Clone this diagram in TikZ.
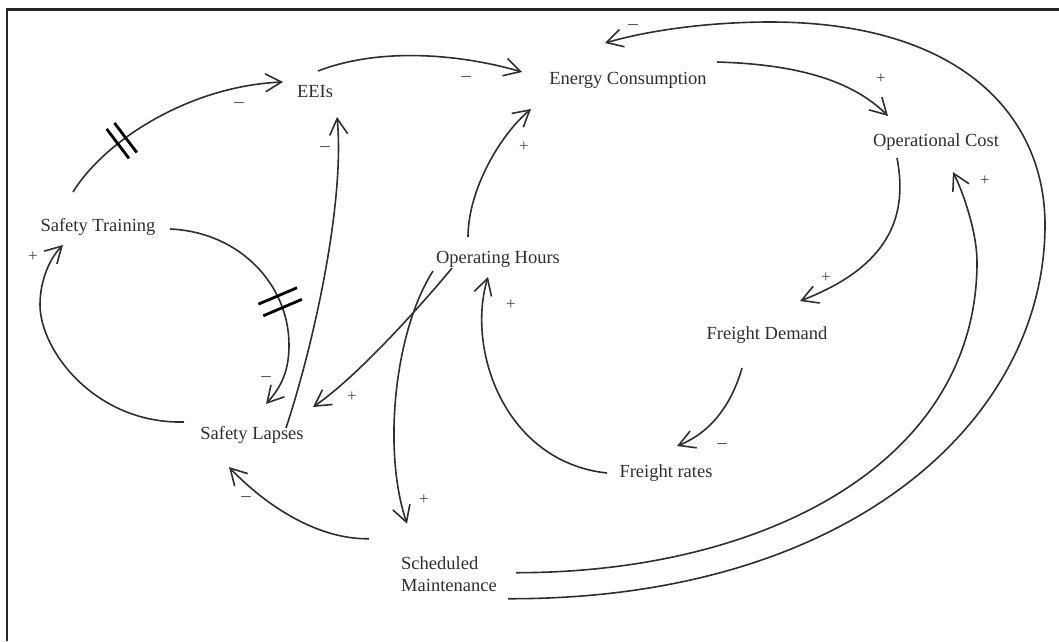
\documentclass[tikz,border=0pt]{standalone}
\usepackage{fontspec}
\setmainfont{Liberation Serif}
\usetikzlibrary{arrows.meta,calc,decorations.markings}
\definecolor{ink}{HTML}{2E2E2E}
\definecolor{signink}{HTML}{474747}
\begin{document}
\begin{tikzpicture}[x=1pt,y=-1pt,
  var/.style={inner sep=0pt, anchor=base, text=ink, font=\fontsize{18.5}{21.4}\selectfont},
  sgn/.style={inner sep=0pt, anchor=base, text=signink, font=\fontsize{17}{17}\selectfont},
  neg/.style={sgn, font=\fontsize{19}{19}\selectfont},
  link/.style={draw=ink, line width=1.6pt, -{Straight Barb[length=16pt,width=18pt]}},
  delay/.style n args={3}{postaction={decorate},
    decoration={markings, mark=at position #1 with
      {\draw[black, line width=2.8pt, arrows=-, line cap=butt] (-#2,-#3) -- (-#2,#3) (#2,-#3) -- (#2,#3);}}},
  frame/.style={draw=black!85, line width=2.2pt}]

\useasboundingbox (0,0) rectangle (1059,641);
\draw[frame] (7,641) -- (7,9.5) -- (1059,9.5);

% variables
\node[var] (st)   at (98,231)   {Safety Training};
\node[var] (eeis) at (315,97)   {EEIs};
\node[var] (ec)   at (628,84)   {Energy Consumption};
\node[var] (oc)   at (936,146)  {Operational Cost};
\node[var] (oh)   at (498,263)  {Operating Hours};
\node[var] (fd)   at (767,339)  {Freight Demand};
\node[var] (fr)   at (666,477)  {Freight rates};
\node[var] (sl)   at (252,439)  {Safety Lapses};
\node[var, anchor=north west, align=left] (sm) at (401,556.7) {Scheduled\\Maintenance};

% causal links
\draw[link, delay={0.29}{4.9pt}{18.5pt}]
  ($(st.base)+(-25,-39)$) .. controls +(32,-52) and +(-93,4) .. ($(eeis.base)+(-32,-15)$);
\draw[link] ($(eeis.base)+(3,-26)$) .. controls +(62,-24) and +(-62,-18) .. ($(ec.base)+(-106,-12)$);
\draw[link] ($(ec.base)+(89,-22)$) .. controls +(68,2) and +(-40,-40) .. ($(oc.base)+(-48,-30)$);
\draw[link] ($(oc.base)+(-39,12)$) .. controls +(13,67) and +(80,-31) .. ($(fd.base)+(33,-38)$);
\draw[link] ($(fd.base)+(-25,29)$) .. controls +(-10,35) and +(35,-14) .. ($(fr.base)+(11,-31)$);
\draw[link] ($(fr.base)+(-59,-4)$) .. controls +(-102,-11) and +(-22,73) .. ($(oh.base)+(-10,14)$);
\draw[link] ($(oh.base)+(-30,-26)$) .. controls +(0,-47) and +(-31,26) .. ($(ec.base)+(-97,25)$);
\draw[link] ($(oh.base)+(-46,5)$) .. controls +(-22,27) and +(47,-32) .. ($(sl.base)+(61,-32)$);
\draw[link] ($(oh.base)+(-65,8)$) .. controls +(-38,59) and +(-25,-74) .. ($(sm.north west)+(6,-33)$);
\draw[link] ($(sm.north west)+(-32,-18)$) .. controls +(-49,1) and +(39,41) .. ($(sl.base)+(-23,28)$);
\draw[link] ($(sm.north west)+(115,16)$) .. controls +(250,0) and +(0,200) .. ($(oc.base)+(41,116)$)
  .. controls +(0,-30) and +(10,20) .. ($(oc.base)+(17,26)$);
\draw[link] ($(sm.north west)+(107,42)$) .. controls +(342,1) and +(0,195) .. ($(oc.base)+(109,79)$)
  .. controls +(0,-110) and +(190,0) .. ($(ec.base)+(142,-62)$)
  .. controls +(-60,0) and +(45,-13) .. ($(ec.base)+(-23,-41)$);
\draw[link] ($(sl.base)+(34,-11)$) .. controls +(29,-88) and +(8,83) .. ($(eeis.base)+(22,20)$);
\draw[link, delay={0.56}{6.3pt}{21pt}]
  ($(st.base)+(72,-2)$) .. controls +(70,3) and +(0,-60) .. ($(st.base)+(191,114)$)
  .. controls +(0,25) and +(16,-18) .. ($(sl.base)+(14,-35)$);
\draw[link] ($(sl.base)+(-68,-17)$) .. controls +(-89,2) and +(0,45) .. ($(st.base)+(-58,74)$)
  .. controls +(0,-25) and +(-13,13) .. ($(st.base)+(-35,14)$);

% polarities
\node[neg] (s1)  at (239,107) {–};
\node[neg] (s2)  at (466,81)  {–};
\node[sgn] (s3)  at (881,83)  {+};
\node[sgn] (s4)  at (826,282) {+};
\node[neg] (s5)  at (722,448) {–};
\node[sgn] (s6)  at (511,309) {+};
\node[sgn] (s7)  at (524,151) {+};
\node[sgn] (s8)  at (352,401) {+};
\node[sgn] (s9)  at (424,504) {+};
\node[neg] (s10) at (246,501) {–};
\node[sgn] (s11) at (985,185) {+};
\node[neg] (s12) at (633,29)  {–};
\node[neg] (s13) at (325,151) {–};
\node[neg] (s14) at (266,381) {–};
\node[sgn] (s15) at (33,261)  {+};
\end{tikzpicture}
\end{document}
